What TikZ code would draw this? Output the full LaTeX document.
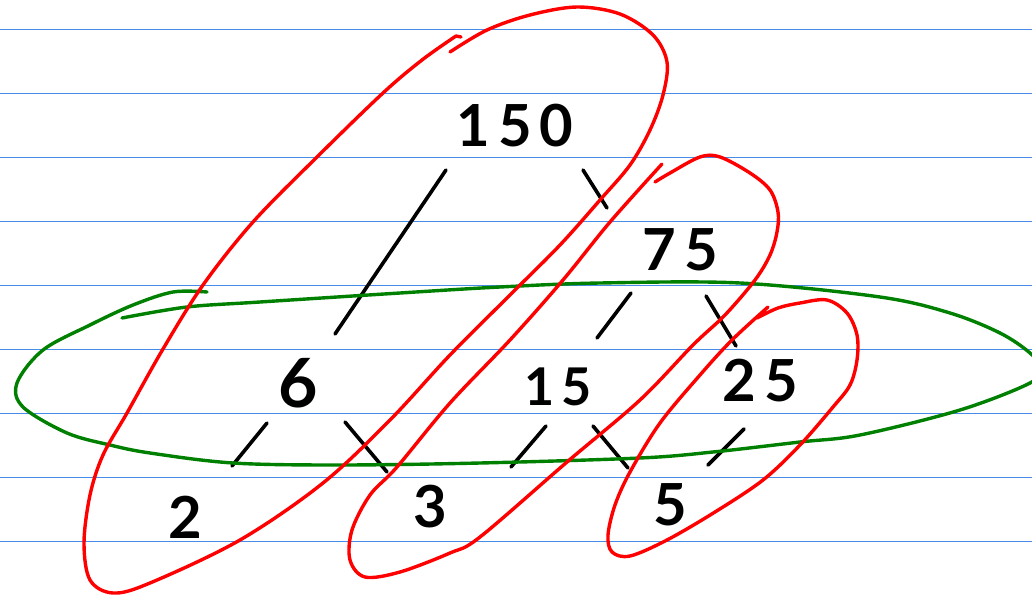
\documentclass[tikz,border=0pt]{standalone}
\usepackage{fontspec}
\setsansfont{Lato}
\definecolor{ruled}{RGB}{70,140,232}
\definecolor{loopred}{RGB}{255,0,0}
\definecolor{loopgreen}{RGB}{0,128,0}
\begin{document}
\begin{tikzpicture}[x=1pt,y=-1pt,
  num/.style={inner sep=0pt, font=\sffamily\bfseries\fontsize{58}{60}\selectfont\addfontfeature{LetterSpace=14}},
  edge/.style={draw=black, line width=3.6pt, line cap=round},
  redloop/.style={draw=loopred, line width=3.4pt, line cap=round, line join=round},
  greenloop/.style={draw=loopgreen, line width=3.4pt, line cap=round, line join=round},
  rule/.style={draw=ruled, line width=1.6pt}]
\useasboundingbox (0,0) rectangle (1032,596);
\clip (0,0) rectangle (1032,596);
\fill[white] (0,0) rectangle (1032,596);
% ruled lines
\foreach \k in {0,...,8} {\draw[rule] (0,29.5+64*\k) -- (1032,29.5+64*\k);}
% numbers
\node[num] (n150) at (515,126) {150};
\node[num] (n75)  at (680,250) {75};
\node[num,font=\sffamily\bfseries\fontsize{68}{70}\selectfont] (n6) at (298,383) {6};
\node[num,font=\sffamily\bfseries\fontsize{52}{54}\selectfont\addfontfeature{LetterSpace=14}] (n15) at (558,387) {15};
\node[num] (n25)  at (760,381) {25};
\node[num] (n2)   at (185,517) {2};
\node[num] (n3)   at (430,507) {3};
\node[num] (n5)   at (670,505) {5};
% tree edges
\draw[edge] ([shift={(-69,44)}]n150.center) -- ([shift={(37,-49)}]n6.center);
\draw[edge] ([shift={(68,44)}]n150.center) -- ([shift={(-73,-42)}]n75.center);
\draw[edge] ([shift={(-49,43)}]n75.center) -- ([shift={(39,-49)}]n15.center);
\draw[edge] ([shift={(26,46)}]n75.center) -- ([shift={(-24,-35)}]n25.center);
\draw[edge] ([shift={(-31,40)}]n6.center) -- ([shift={(47,-51)}]n2.center);
\draw[edge] ([shift={(47,39)}]n6.center) -- ([shift={(-43,-35)}]n3.center);
\draw[edge] ([shift={(-12,39)}]n15.center) -- ([shift={(81,-40)}]n3.center);
\draw[edge] ([shift={(35,39)}]n15.center) -- ([shift={(-42,-37)}]n5.center);
\draw[edge] ([shift={(-16,48)}]n25.center) -- ([shift={(38,-40)}]n5.center);
% green loop
\draw[greenloop] plot[smooth, tension=0.55] coordinates {
 (122,318) (187,307) (260,302) (400,293) (500,287) (600,283) (740,283) (880,297)
 (950,313) (1000,333) (1030,353) (1040,368) (1030,383) (960,410) (860,435)
 (800,442) (713,452) (640,458) (480,463) (340,465) (233,463) (150,453) (110,445)
 (67,433) (23,407) (17,383) (43,350) (90,325) (133,305) (173,292) (207,292)};
% red loops
\draw[redloop] plot[smooth, tension=0.55] coordinates {
 (450,52) (487,30) (530,15) (577,7) (620,14) (653,35) (667,62) (663,95) (650,130)
 (630,165) (600,200) (560,245) (510,295) (450,355) (390,420) (323,483) (240,540)
 (150,583) (113,593) (90,580) (84,543) (90,495) (103,455) (127,413) (163,349)
 (203,285) (253,222) (317,157) (383,93) (422,60) (456,36)};
\draw[redloop] (456,36) -- (461,37);
\draw[redloop] plot[smooth, tension=0.55] coordinates {
 (655,182) (670,173) (700,157) (720,157) (750,173) (770,190) (778,212) (777,232)
 (770,255) (755,280) (725,315) (693,345) (640,400) (567,462) (480,537) (450,553)
 (400,572) (365,577) (350,560) (352,530) (370,495) (397,467) (450,403) (510,340)
 (563,280) (610,222) (662,164)};
\draw[redloop] plot[smooth, tension=0.55] coordinates {
 (757,318) (778,308) (800,303) (827,300) (847,313) (857,335) (857,360) (850,385)
 (833,407) (800,445) (763,480) (715,512) (667,540) (630,556) (612,552) (608,535)
 (615,505) (630,472) (660,423) (700,375) (732,340) (768,307)};
\end{tikzpicture}
\end{document}
